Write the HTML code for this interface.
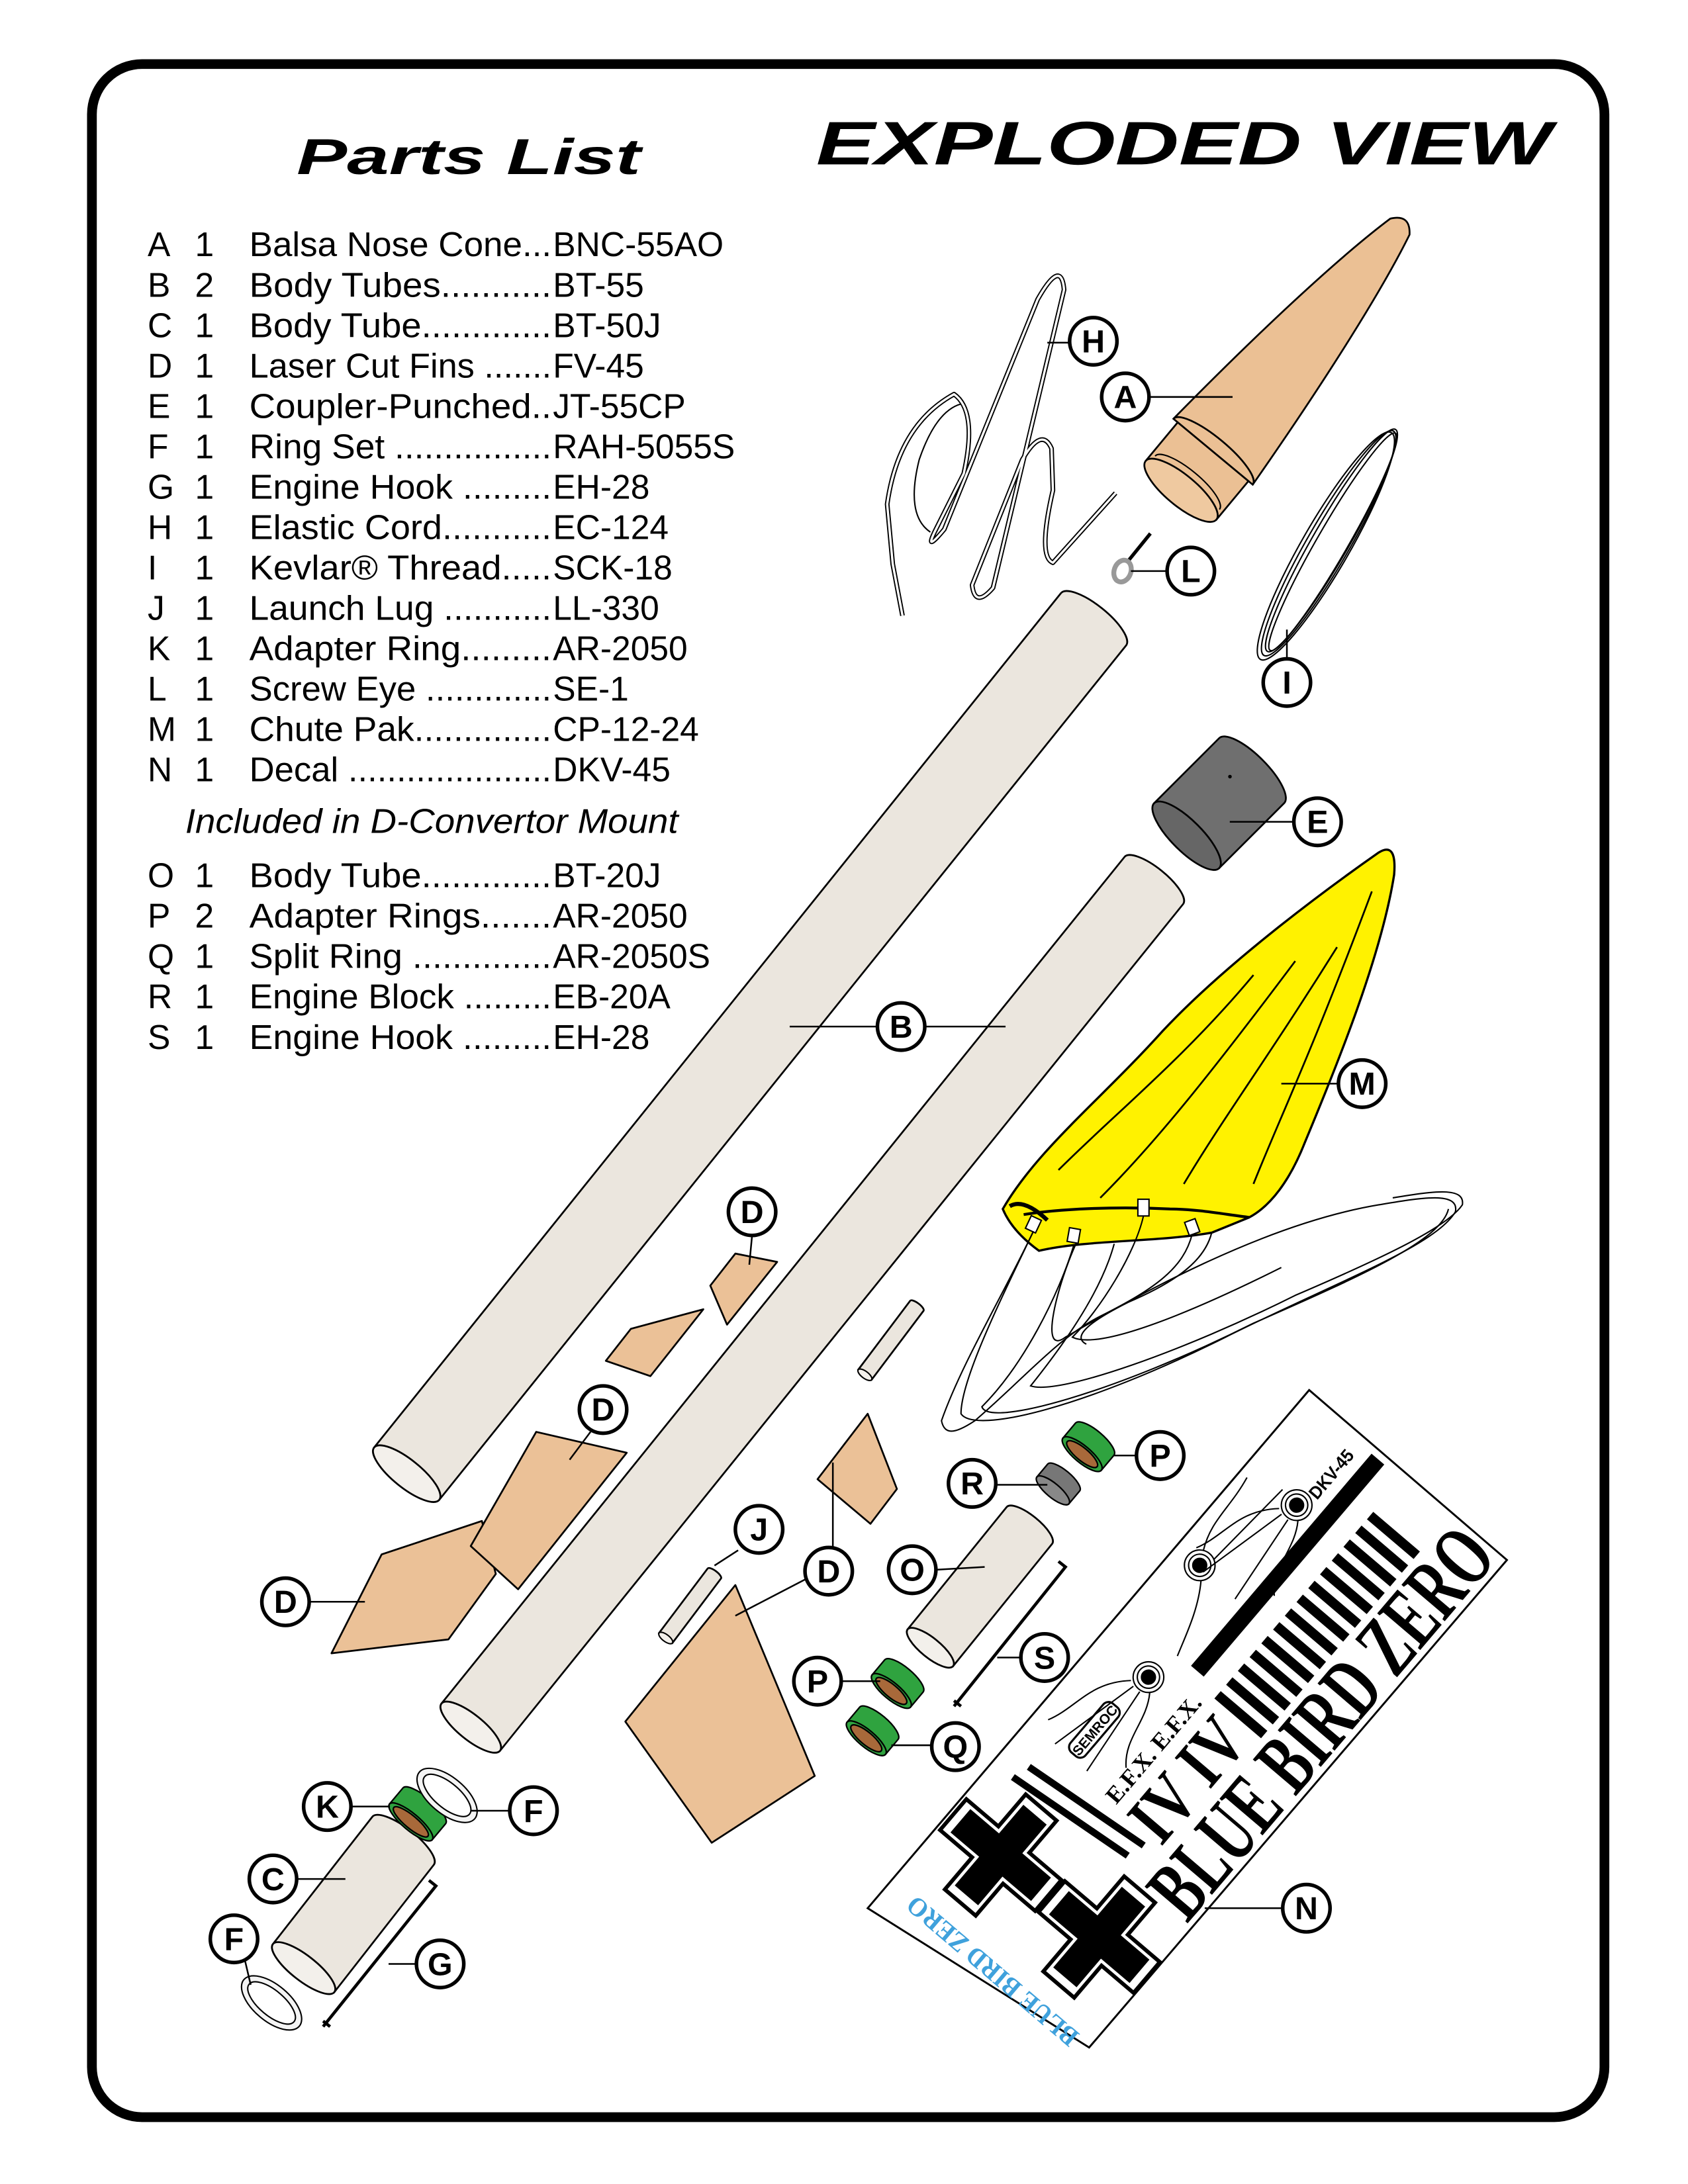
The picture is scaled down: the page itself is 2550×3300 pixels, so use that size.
<!DOCTYPE html>
<html><head><meta charset="utf-8"><style>
html,body{margin:0;padding:0;background:#fff}
svg{display:block}
text{font-family:"Liberation Sans",Arial,sans-serif}
.l circle{fill:#fff;stroke:#000;stroke-width:2.6}
.l text{font-weight:bold;font-size:23px;text-anchor:middle}
.ld{stroke:#000;stroke-width:1.2;fill:none}
.tube{fill:#ebe6de;stroke:#000;stroke-width:1.3}
.fin{fill:#ebc197;stroke:#000;stroke-width:1.3;stroke-linejoin:round}
.pl{font-size:24.5px}
text.serif{font-family:"Liberation Serif","Times New Roman",serif}
</style></head><body>
<svg width="2550" height="3300" viewBox="0 0 1212 1568" preserveAspectRatio="none" xmlns="http://www.w3.org/2000/svg">
<rect x="0" y="0" width="1212" height="1568" fill="#fff"/>
<rect x="66" y="46" width="1086" height="1474" rx="36" fill="none" stroke="#000" stroke-width="7"/>

<text x="586" y="118" font-size="44" font-weight="bold" font-style="italic" textLength="528" lengthAdjust="spacingAndGlyphs">EXPLODED VIEW</text>
<text x="213" y="125" font-size="36" font-weight="bold" font-style="italic" textLength="247" lengthAdjust="spacingAndGlyphs">Parts List</text>

<g class="pl">
<text x="106" y="184">A</text><text x="140" y="184">1</text><text x="179" y="184" textLength="217" lengthAdjust="spacingAndGlyphs">Balsa Nose Cone...</text><text x="397" y="184">BNC-55AO</text>
<text x="106" y="213">B</text><text x="140" y="213">2</text><text x="179" y="213" textLength="217" lengthAdjust="spacingAndGlyphs">Body Tubes...........</text><text x="397" y="213">BT-55</text>
<text x="106" y="242">C</text><text x="140" y="242">1</text><text x="179" y="242" textLength="217" lengthAdjust="spacingAndGlyphs">Body Tube.............</text><text x="397" y="242">BT-50J</text>
<text x="106" y="271">D</text><text x="140" y="271">1</text><text x="179" y="271" textLength="217" lengthAdjust="spacingAndGlyphs">Laser Cut Fins .......</text><text x="397" y="271">FV-45</text>
<text x="106" y="300">E</text><text x="140" y="300">1</text><text x="179" y="300" textLength="217" lengthAdjust="spacingAndGlyphs">Coupler-Punched..</text><text x="397" y="300">JT-55CP</text>
<text x="106" y="329">F</text><text x="140" y="329">1</text><text x="179" y="329" textLength="217" lengthAdjust="spacingAndGlyphs">Ring Set ................</text><text x="397" y="329">RAH-5055S</text>
<text x="106" y="358">G</text><text x="140" y="358">1</text><text x="179" y="358" textLength="217" lengthAdjust="spacingAndGlyphs">Engine Hook .........</text><text x="397" y="358">EH-28</text>
<text x="106" y="387">H</text><text x="140" y="387">1</text><text x="179" y="387" textLength="217" lengthAdjust="spacingAndGlyphs">Elastic Cord...........</text><text x="397" y="387">EC-124</text>
<text x="106" y="416">I</text><text x="140" y="416">1</text><text x="179" y="416" textLength="217" lengthAdjust="spacingAndGlyphs">Kevlar® Thread.....</text><text x="397" y="416">SCK-18</text>
<text x="106" y="445">J</text><text x="140" y="445">1</text><text x="179" y="445" textLength="217" lengthAdjust="spacingAndGlyphs">Launch Lug ...........</text><text x="397" y="445">LL-330</text>
<text x="106" y="474">K</text><text x="140" y="474">1</text><text x="179" y="474" textLength="217" lengthAdjust="spacingAndGlyphs">Adapter Ring.........</text><text x="397" y="474">AR-2050</text>
<text x="106" y="503">L</text><text x="140" y="503">1</text><text x="179" y="503" textLength="217" lengthAdjust="spacingAndGlyphs">Screw Eye .............</text><text x="397" y="503">SE-1</text>
<text x="106" y="532">M</text><text x="140" y="532">1</text><text x="179" y="532" textLength="217" lengthAdjust="spacingAndGlyphs">Chute Pak..............</text><text x="397" y="532">CP-12-24</text>
<text x="106" y="561">N</text><text x="140" y="561">1</text><text x="179" y="561" textLength="217" lengthAdjust="spacingAndGlyphs">Decal .....................</text><text x="397" y="561">DKV-45</text>
<text x="133" y="598" font-style="italic" textLength="354" lengthAdjust="spacingAndGlyphs">Included in D-Convertor Mount</text>
<text x="106" y="637">O</text><text x="140" y="637">1</text><text x="179" y="637" textLength="217" lengthAdjust="spacingAndGlyphs">Body Tube.............</text><text x="397" y="637">BT-20J</text>
<text x="106" y="666">P</text><text x="140" y="666">2</text><text x="179" y="666" textLength="217" lengthAdjust="spacingAndGlyphs">Adapter Rings.......</text><text x="397" y="666">AR-2050</text>
<text x="106" y="695">Q</text><text x="140" y="695">1</text><text x="179" y="695" textLength="217" lengthAdjust="spacingAndGlyphs">Split Ring ..............</text><text x="397" y="695">AR-2050S</text>
<text x="106" y="724">R</text><text x="140" y="724">1</text><text x="179" y="724" textLength="217" lengthAdjust="spacingAndGlyphs">Engine Block .........</text><text x="397" y="724">EB-20A</text>
<text x="106" y="753">S</text><text x="140" y="753">1</text><text x="179" y="753" textLength="217" lengthAdjust="spacingAndGlyphs">Engine Hook .........</text><text x="397" y="753">EH-28</text>
</g>

<g fill="none" stroke-linejoin="round">
<path d="M648,442 L641,405 L637,362 Q645,305 685,283 Q702,295 692,340 L672,380 Q663,398 678,380 L745,215 Q762,185 764,208 L713,422 Q700,437 698,420 L734,330 Q748,306 755,322 L756,352 Q745,400 756,404 L801,354" stroke="#000" stroke-width="3.4"/>
<path d="M648,442 L641,405 L637,362 Q645,305 685,283 Q702,295 692,340 L672,380 Q663,398 678,380 L745,215 Q762,185 764,208 L713,422 Q700,437 698,420 L734,330 Q748,306 755,322 L756,352 Q745,400 756,404 L801,354" stroke="#fff" stroke-width="1.6"/>
<path d="M668,382 Q650,370 660,330 Q672,295 690,290" stroke="#000" stroke-width="1"/>
</g>

<g fill="none" stroke="#000" stroke-width="1">
<ellipse cx="954" cy="390" rx="93" ry="15" transform="rotate(-60 954 390)"/>
<ellipse cx="956" cy="388" rx="92" ry="13" transform="rotate(-60 956 388)"/>
<ellipse cx="952" cy="392" rx="94" ry="17" transform="rotate(-60 952 392)"/>
<ellipse cx="957" cy="389" rx="90" ry="11" transform="rotate(-60 957 389)"/>
</g>

<g transform="translate(848,352) rotate(-50.3)">
<path d="M36,-37 C120,-30 200,-20 246,-9 Q258,0 246,9 C200,20 120,30 36,37 Z" fill="#ebc094" stroke="#000" stroke-width="1.3"/>
<path d="M0,-33 L36,-33 L36,33 L0,33 Z" fill="#ebc094" stroke="#000" stroke-width="1.3"/>
<path d="M36,-37 A10,37 0 0 1 36,37" fill="none" stroke="#000" stroke-width="1.3"/>
<ellipse cx="0" cy="0" rx="11" ry="33" fill="#efc9a0" stroke="#000" stroke-width="1.3"/>
<path d="M7,-30 A9,30 0 0 1 7,30" fill="none" stroke="#000" stroke-width="1"/>
</g>

<line x1="809" y1="404" x2="826" y2="383" stroke="#000" stroke-width="2.5"/>
<ellipse cx="806" cy="410" rx="6" ry="8" fill="none" stroke="#999" stroke-width="3.5" transform="rotate(20 806 410)"/>

<g transform="translate(292,1058) rotate(-51.2)">
<path class="tube" d="M0,-30 L787,-30 A10,30 0 0 1 787,30 L0,30 Z"/>
<ellipse cx="0" cy="0" rx="10" ry="30" fill="#f3f0eb" stroke="#000" stroke-width="1.3"/>
</g>
<g transform="translate(852,600) rotate(-45)">
<path d="M0,-33 L66,-33 A11,33 0 0 1 66,33 L0,33 Z" fill="#6f6f6f" stroke="#000" stroke-width="1.3"/>
<ellipse cx="0" cy="0" rx="11" ry="33" fill="#666" stroke="#000" stroke-width="1.3"/>
<circle cx="52" cy="-8" r="1.3" fill="#000"/>
</g>

<g transform="translate(338,1240) rotate(-51.1)">
<path class="tube" d="M0,-27 L781,-27 A9,27 0 0 1 781,27 L0,27 Z"/>
<ellipse cx="0" cy="0" rx="9" ry="27" fill="#f3f0eb" stroke="#000" stroke-width="1.3"/>
</g>

<g>
<path d="M720,868 C745,825 790,790 835,740 C880,692 950,640 990,612 Q1003,604 1001,628 C992,685 962,760 937,820 C926,848 912,866 897,874 L870,885 C830,892 780,890 746,898 C735,890 725,880 720,868 Z" fill="#fff200" stroke="#000" stroke-width="1.6"/>
<g fill="none" stroke="#000" stroke-width="1.3">
<path d="M760,840 C800,800 850,760 900,700"/>
<path d="M790,860 C830,820 870,770 930,690"/>
<path d="M850,850 C880,800 910,760 960,680"/>
<path d="M900,850 C920,800 940,760 985,640"/>
<path d="M735,872 C760,868 800,866 840,868 C860,868 880,872 897,874" stroke-width="2"/>
<path d="M725,866 Q735,860 752,876" stroke-width="3"/>
</g>
<g fill="#fff" stroke="#000" stroke-width="1">
<rect x="738" y="874" width="8" height="10" transform="rotate(25 742 879)"/>
<rect x="767" y="882" width="8" height="10" transform="rotate(10 771 887)"/>
<rect x="817" y="861" width="8" height="12"/>
<rect x="852" y="876" width="8" height="10" transform="rotate(-20 856 881)"/>
</g>
<g fill="none" stroke="#000" stroke-width="1">
<path d="M742,884 C720,930 690,990 690,1015 C700,1030 780,1010 880,960 C960,920 1030,895 1045,870 C1048,855 1020,860 990,865 C900,880 800,940 765,960 C745,975 760,920 773,892"/>
<path d="M771,894 C760,930 735,980 705,1010 C710,1025 800,1000 900,950 C980,915 1035,890 1040,868"/>
<path d="M800,893 C790,930 760,970 740,995 C760,1002 850,970 930,930 C1000,900 1040,880 1050,865 C1052,852 1030,855 1000,860"/>
<path d="M821,873 C815,900 790,940 770,960 C790,970 860,940 920,910"/>
<path d="M856,886 C850,910 830,925 790,945 C760,960 735,990 700,1020 C685,1030 678,1030 676,1020 C690,980 720,930 742,884"/>
<path d="M870,885 C865,905 845,920 810,935 C780,950 770,960 780,965"/>
</g>
</g>

<polygon class="fin" points="510,923 528,900 558,906 522,951"/>
<polygon class="fin" points="435,977 453,954 505,940 467,988"/>
<polygon class="fin" points="238,1187 274,1116 346,1092 356,1130 322,1177"/>
<polygon class="fin" points="338,1110 385,1028 450,1043 372,1141"/>
<polygon class="fin" points="587,1062 623,1015 644,1069 625,1094"/>
<polygon class="fin" points="449,1236 528,1138 585,1275 511,1323"/>

<g transform="translate(478,1176) rotate(-53)"><path class="tube" d="M0,-6 L58,-6 A2,6 0 0 1 58,6 L0,6 Z"/><ellipse cx="0" cy="0" rx="2.5" ry="6" fill="#f3f0eb" stroke="#000"/></g>
<g transform="translate(621,987) rotate(-53)"><path class="tube" d="M0,-6 L62,-6 A2,6 0 0 1 62,6 L0,6 Z"/><ellipse cx="0" cy="0" rx="2.5" ry="6" fill="#f3f0eb" stroke="#000"/></g>

<g transform="translate(668,1183) rotate(-51)">
<path class="tube" d="M0,-21 L113,-21 A7,21 0 0 1 113,21 L0,21 Z"/>
<ellipse cx="0" cy="0" rx="7" ry="21" fill="#f3f0eb" stroke="#000" stroke-width="1.3"/>
</g>
<g transform="translate(218,1413) rotate(-52)">
<path class="tube" d="M0,-28 L116,-28 A9,28 0 0 1 116,28 L0,28 Z"/>
<ellipse cx="0" cy="0" rx="9" ry="28" fill="#f3f0eb" stroke="#000" stroke-width="1.3"/>
</g>

<g stroke="#000" stroke-width="1.1">
<g transform="translate(777,1044) rotate(-50)"><path d="M0,-18 L14,-18 A6,18 0 0 1 14,18 L0,18 Z" fill="#2fa33f"/><ellipse rx="6" ry="18" fill="#2fa33f"/><ellipse rx="4.5" ry="14" fill="#a8693a"/></g>
<g transform="translate(756,1070) rotate(-50)"><path d="M0,-15 L12,-15 A5,15 0 0 1 12,15 L0,15 Z" fill="#777"/><ellipse rx="5" ry="15" fill="#888"/></g>
<g transform="translate(640,1214) rotate(-50)"><path d="M0,-18 L14,-18 A6,18 0 0 1 14,18 L0,18 Z" fill="#2fa33f"/><ellipse rx="6" ry="18" fill="#2fa33f"/><ellipse rx="4.5" ry="14" fill="#a8693a"/></g>
<g transform="translate(622,1248) rotate(-50)"><path d="M0,-18 L14,-18 A6,18 0 0 1 14,18 L0,18 Z" fill="#2fa33f"/><ellipse rx="6" ry="18" fill="#2fa33f"/><ellipse rx="4.5" ry="14" fill="#a8693a"/></g>
<g transform="translate(295,1308) rotate(-50)"><path d="M0,-20 L15,-20 A6,20 0 0 1 15,20 L0,20 Z" fill="#2fa33f"/><ellipse rx="6" ry="20" fill="#2fa33f"/><ellipse rx="4.5" ry="16" fill="#a8693a"/></g>
</g>
<g fill="none" stroke="#000" stroke-width="1">
<ellipse cx="321" cy="1289" rx="13" ry="26" transform="rotate(-50 321 1289)" fill="#f4f4f4"/>
<ellipse cx="321" cy="1289" rx="9" ry="21" transform="rotate(-50 321 1289)" fill="#fff"/>
<ellipse cx="195" cy="1438" rx="13" ry="26" transform="rotate(-50 195 1438)" fill="#f4f4f4"/>
<ellipse cx="195" cy="1438" rx="9" ry="21" transform="rotate(-50 195 1438)" fill="#fff"/>
</g>

<path d="M237,1455 L232,1451 M232,1455 L313,1354 L308,1350" fill="none" stroke="#000" stroke-width="2.2"/>
<path d="M690,1225 L685,1221 M685,1225 L765,1125 L760,1121" fill="none" stroke="#000" stroke-width="2.2"/>

<polygon points="623,1370 940,998 1082,1120 782,1470" fill="#fff" stroke="#000" stroke-width="1.4"/>
<g transform="translate(623,1370) rotate(-49.6)">
 <g transform="translate(91,48)"><path d="M-13,-40 H13 V-13 H40 V13 H13 V40 H-13 V13 H-40 V-13 H-13 Z" fill="none" stroke="#000" stroke-width="2.5" transform="scale(1.12)"/><path d="M-11,-38 H11 V-11 H38 V11 H11 V38 H-11 V11 H-38 V-11 H-11 Z" fill="#000"/></g>
 <g transform="translate(92,140)"><path d="M-13,-40 H13 V-13 H40 V13 H13 V40 H-13 V13 H-40 V-13 H-13 Z" fill="none" stroke="#000" stroke-width="2.5" transform="scale(1.12)"/><path d="M-11,-38 H11 V-11 H38 V11 H11 V38 H-11 V11 H-38 V-11 H-11 Z" fill="#000"/></g>
 <rect x="142" y="18" width="5" height="100" fill="#000" transform="rotate(-6 145 68)"/>
 <rect x="155" y="22" width="5" height="100" fill="#000" transform="rotate(-6 158 72)"/>
 <text class="serif" transform="translate(30,175) rotate(-90)" font-weight="bold" font-size="19" fill="#3fa1dc" textLength="155" lengthAdjust="spacingAndGlyphs">BLUE BIRD ZERO</text>
 <text class="serif" x="140" y="182" font-weight="bold" font-size="62" textLength="345" lengthAdjust="spacingAndGlyphs">BLUE BIRD ZERO</text>
 <text class="serif" x="170" y="132" font-weight="bold" font-size="52" textLength="98" lengthAdjust="spacingAndGlyphs">IV IV</text>
 <text class="serif" x="172" y="88" font-weight="bold" font-size="17" textLength="96" lengthAdjust="spacingAndGlyphs">E.F.X.  E.F.X.</text>
 <rect x="180" y="34" width="46" height="14" rx="5" fill="#fff" stroke="#000" stroke-width="1.5"/>
 <text x="203" y="45" font-size="10" font-weight="bold" text-anchor="middle">SEMROC</text>
 <rect x="283" y="64" width="200" height="12" fill="#000"/>
 <g fill="#000">
 <rect x="276" y="92" width="7" height="44"/><rect x="289" y="92" width="7" height="44"/><rect x="302" y="92" width="7" height="44"/><rect x="315" y="92" width="7" height="44"/><rect x="328" y="92" width="7" height="44"/><rect x="341" y="92" width="7" height="44"/><rect x="354" y="92" width="7" height="44"/><rect x="367" y="92" width="7" height="44"/><rect x="380" y="92" width="7" height="44"/><rect x="393" y="92" width="7" height="44"/><rect x="406" y="92" width="7" height="44"/><rect x="419" y="92" width="7" height="44"/><rect x="432" y="92" width="7" height="44"/><rect x="445" y="92" width="7" height="44"/>
 </g>
 <text x="432" y="56" font-size="13" font-weight="bold" textLength="42" lengthAdjust="spacingAndGlyphs">DKV-45</text>
 <g fill="none" stroke="#000" stroke-width="1">
  <g transform="translate(257,46)"><circle r="11"/><circle r="8"/><circle r="5" fill="#000"/><path d="M-10,-8 C-30,-30 -50,-25 -70,-35 M-8,8 C-25,20 -45,15 -60,30 M-12,-4 L-80,-20 M-12,2 L-80,10"/></g>
  <g transform="translate(342,22)"><circle r="11"/><circle r="8"/><circle r="5" fill="#000"/><path d="M10,-5 C30,-15 45,-10 70,-15 M-8,8 C-25,20 -45,25 -60,30 M10,5 L80,10"/></g>
  <g transform="translate(420,47)"><circle r="11"/><circle r="8"/><circle r="5" fill="#000"/><path d="M-10,-8 C-30,-30 -50,-25 -70,-35 M-8,8 C-25,20 -45,15 -60,30 M-12,-4 L-80,-20 M-12,2 L-80,10"/></g>
 </g>
</g>

<g class="ld">
<line x1="752" y1="246" x2="768" y2="246"/>
<line x1="825" y1="285" x2="885" y2="285"/>
<line x1="812" y1="410" x2="838" y2="410"/>
<line x1="924" y1="473" x2="924" y2="452"/>
<line x1="883" y1="590" x2="929" y2="590"/>
<line x1="567" y1="737" x2="630" y2="737"/>
<line x1="664" y1="737" x2="722" y2="737"/>
<line x1="920" y1="778" x2="961" y2="778"/>
<line x1="540" y1="887" x2="538" y2="908"/>
<line x1="424" y1="1028" x2="409" y2="1048"/>
<line x1="222" y1="1150" x2="262" y2="1150"/>
<line x1="530" y1="1113" x2="513" y2="1124"/>
<line x1="598" y1="1050" x2="598" y2="1111"/>
<line x1="578" y1="1134" x2="528" y2="1160"/>
<line x1="672" y1="1127" x2="707" y2="1125"/>
<line x1="715" y1="1066" x2="752" y2="1066"/>
<line x1="800" y1="1045" x2="816" y2="1045"/>
<line x1="716" y1="1190" x2="733" y2="1190"/>
<line x1="604" y1="1207" x2="632" y2="1207"/>
<line x1="640" y1="1253" x2="669" y2="1253"/>
<line x1="252" y1="1297" x2="280" y2="1297"/>
<line x1="338" y1="1300" x2="366" y2="1300"/>
<line x1="213" y1="1349" x2="248" y2="1349"/>
<line x1="176" y1="1408" x2="180" y2="1425"/>
<line x1="279" y1="1410" x2="299" y2="1410"/>
<line x1="865" y1="1370" x2="921" y2="1370"/>
</g>

<g class="l">
<g><circle cx="785" cy="245" r="17"/><text x="785" y="253">H</text></g>
<g><circle cx="808" cy="285" r="17"/><text x="808" y="293">A</text></g>
<g><circle cx="855" cy="410" r="17"/><text x="855" y="418">L</text></g>
<g><circle cx="924" cy="490" r="17"/><text x="924" y="498">I</text></g>
<g><circle cx="946" cy="590" r="17"/><text x="946" y="598">E</text></g>
<g><circle cx="647" cy="737" r="17"/><text x="647" y="745">B</text></g>
<g><circle cx="978" cy="778" r="17"/><text x="978" y="786">M</text></g>
<g><circle cx="540" cy="870" r="17"/><text x="540" y="878">D</text></g>
<g><circle cx="433" cy="1012" r="17"/><text x="433" y="1020">D</text></g>
<g><circle cx="205" cy="1150" r="17"/><text x="205" y="1158">D</text></g>
<g><circle cx="545" cy="1098" r="17"/><text x="545" y="1106">J</text></g>
<g><circle cx="595" cy="1128" r="17"/><text x="595" y="1136">D</text></g>
<g><circle cx="655" cy="1127" r="17"/><text x="655" y="1135">O</text></g>
<g><circle cx="698" cy="1065" r="17"/><text x="698" y="1073">R</text></g>
<g><circle cx="833" cy="1045" r="17"/><text x="833" y="1053">P</text></g>
<g><circle cx="750" cy="1190" r="17"/><text x="750" y="1198">S</text></g>
<g><circle cx="587" cy="1207" r="17"/><text x="587" y="1215">P</text></g>
<g><circle cx="686" cy="1254" r="17"/><text x="686" y="1262">Q</text></g>
<g><circle cx="235" cy="1297" r="17"/><text x="235" y="1305">K</text></g>
<g><circle cx="383" cy="1300" r="17"/><text x="383" y="1308">F</text></g>
<g><circle cx="196" cy="1349" r="17"/><text x="196" y="1357">C</text></g>
<g><circle cx="168" cy="1392" r="17"/><text x="168" y="1400">F</text></g>
<g><circle cx="316" cy="1410" r="17"/><text x="316" y="1418">G</text></g>
<g><circle cx="938" cy="1370" r="17"/><text x="938" y="1378">N</text></g>
</g>
</svg>
</body></html>
